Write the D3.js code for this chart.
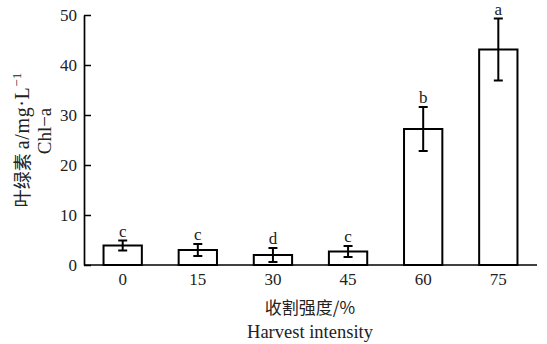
<!DOCTYPE html>
<html><head><meta charset="utf-8">
<script src="https://cdn.jsdelivr.net/npm/d3@7/dist/d3.min.js"></script>
<style>body{margin:0;background:#fff}svg{display:block}
.serif{font-family:"Liberation Serif","DejaVu Serif",serif}
.cjk{font-family:"Noto Sans CJK SC",sans-serif}
</style>
</head><body>
<script>
const categories = ["0","15","30","45","60","75"];
const means = [3.9, 3.0, 2.0, 2.7, 27.2, 43.1];
const errors = [1.0, 1.2, 1.4, 1.1, 4.4, 6.2];
const letters = ["c","c","d","c","b","a"];
const yTicks = [0,10,20,30,40,50];

const W = 547, H = 344;
const svg = d3.select("body").append("svg").attr("width", W).attr("height", H);

const x = d3.scaleBand().domain(categories).range([84, 537]).paddingInner(0.49).paddingOuter(0.26);
const y = d3.scaleLinear().domain([0, 50]).range([265, 15]);

// y axis
const ya = svg.append("g").attr("transform", "translate(84,0)")
  .call(d3.axisLeft(y).tickValues(yTicks).tickSizeInner(-7).tickSizeOuter(0).tickPadding(7));
ya.attr("font-family", null);
ya.select(".domain").attr("stroke", "#000").attr("stroke-width", 1.7);
ya.selectAll(".tick line").attr("stroke", "#000").attr("stroke-width", 1.5);
ya.selectAll(".tick text").attr("class", "serif").attr("font-size", 17).attr("fill", "#222");

// x axis
const xa = svg.append("g").attr("transform", "translate(0,265)")
  .call(d3.axisBottom(x).tickSize(0).tickPadding(8));
xa.attr("font-family", null);
xa.select(".domain").attr("stroke", "#000").attr("stroke-width", 1.7).attr("d", "M84,0H537");
xa.selectAll(".tick text").attr("class", "serif").attr("font-size", 17).attr("fill", "#222");

// bars
const g = svg.append("g");
g.selectAll("rect").data(means).join("rect")
  .attr("x", (d, i) => x(categories[i]))
  .attr("y", d => y(d))
  .attr("width", x.bandwidth())
  .attr("height", d => y(0) - y(d))
  .attr("fill", "#fff").attr("stroke", "#000").attr("stroke-width", 2);

// error bars
const cx = i => x(categories[i]) + x.bandwidth() / 2;
const eb = g.selectAll("g.eb").data(means).join("g").attr("class", "eb");
eb.append("line").attr("x1", (d,i)=>cx(i)).attr("x2", (d,i)=>cx(i))
  .attr("y1", (d,i)=>y(d+errors[i])).attr("y2", (d,i)=>y(d-errors[i]))
  .attr("stroke", "#000").attr("stroke-width", 2);
eb.append("line").attr("x1", (d,i)=>cx(i)-4.5).attr("x2", (d,i)=>cx(i)+4.5)
  .attr("y1", (d,i)=>y(d+errors[i])).attr("y2", (d,i)=>y(d+errors[i]))
  .attr("stroke", "#000").attr("stroke-width", 2);
eb.append("line").attr("x1", (d,i)=>cx(i)-4.5).attr("x2", (d,i)=>cx(i)+4.5)
  .attr("y1", (d,i)=>y(d-errors[i])).attr("y2", (d,i)=>y(d-errors[i]))
  .attr("stroke", "#000").attr("stroke-width", 2);

// letters
g.selectAll("text.lt").data(means).join("text").attr("class", "lt serif")
  .attr("x", (d,i)=>cx(i)).attr("y", (d,i)=>y(d+errors[i]) - 4)
  .attr("text-anchor", "middle").attr("font-size", 17).attr("fill", "#222")
  .text((d,i)=>letters[i]);

// axis titles
svg.append("text").attr("class", "cjk").attr("x", 310).attr("y", 314).attr("text-anchor", "middle")
  .attr("font-size", 17).attr("fill", "#222").text("收割强度/%");
svg.append("text").attr("class", "serif").attr("x", 310).attr("y", 338).attr("text-anchor", "middle")
  .attr("font-size", 18.5).attr("fill", "#222").text("Harvest intensity");

const t1 = svg.append("text").attr("transform", "translate(29,140) rotate(-90)").attr("text-anchor", "middle")
  .attr("fill", "#222");
t1.append("tspan").attr("class", "cjk").attr("font-size", 18).text("叶绿素 ");
t1.append("tspan").attr("class", "serif").attr("font-size", 20).attr("letter-spacing", 0.6).text("a/mg·L");
t1.append("tspan").attr("class", "serif").attr("font-size", 13).attr("dy", -8).text("−1");
svg.append("text").attr("class", "serif").attr("transform", "translate(51,131) rotate(-90)").attr("text-anchor", "middle")
  .attr("font-size", 19).attr("fill", "#222").text("Chl−a");
</script>
</body></html>
